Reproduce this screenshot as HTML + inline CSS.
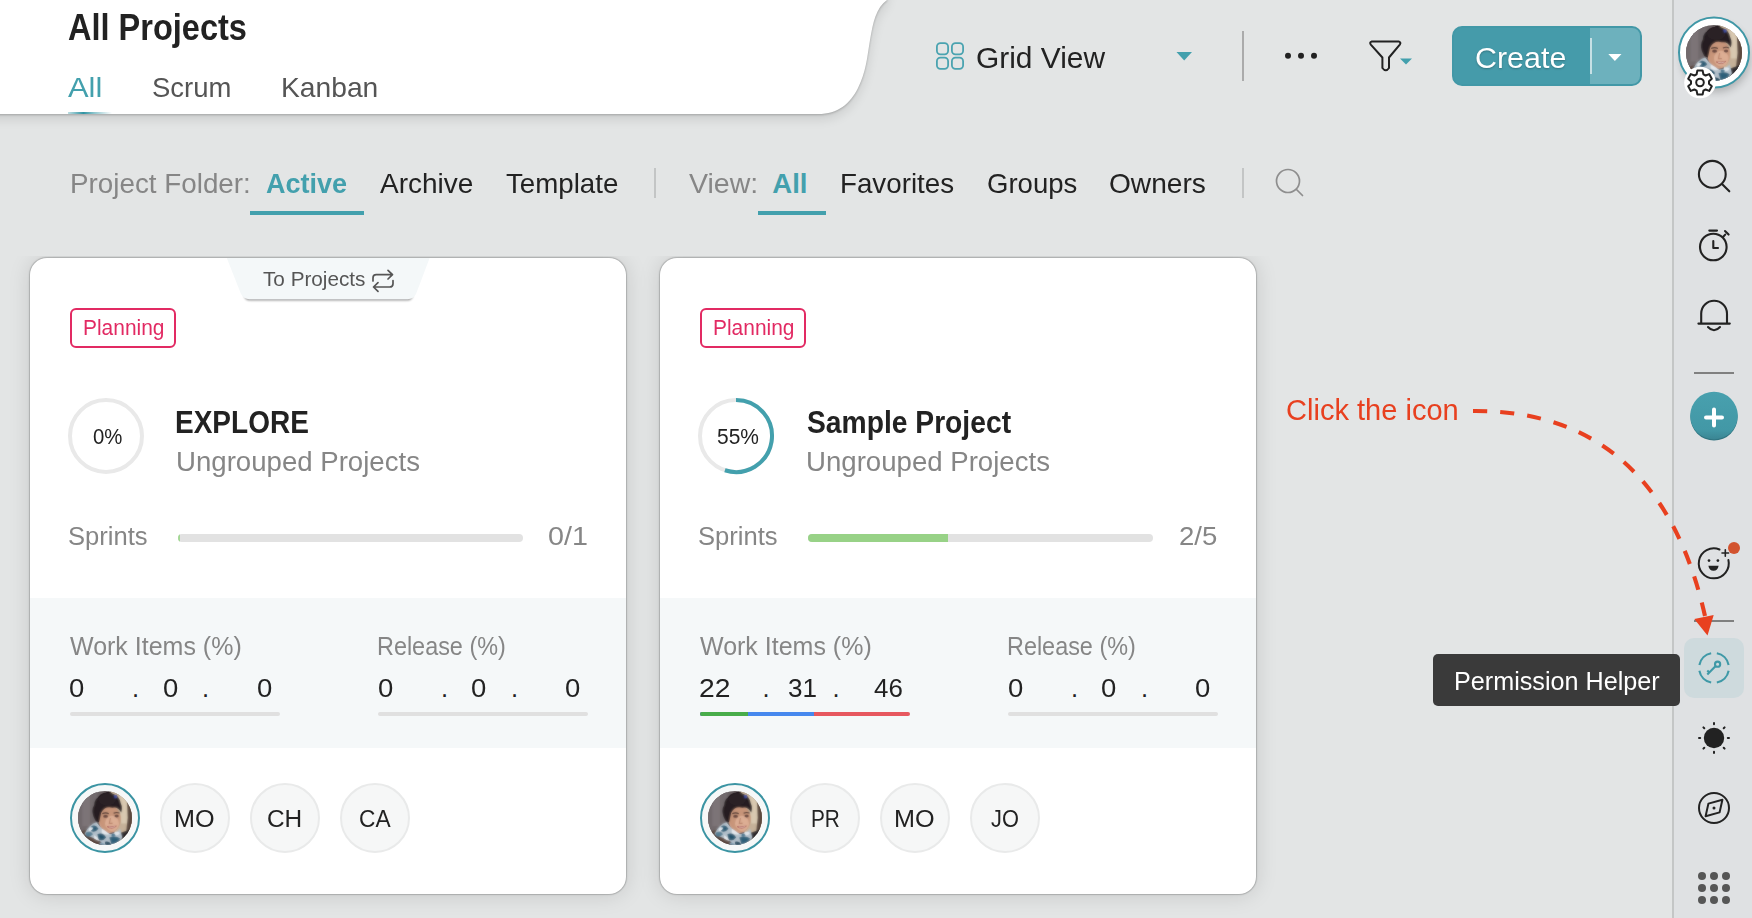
<!DOCTYPE html>
<html lang="en">
<head>
<meta charset="utf-8">
<title>All Projects</title>
<style>
*{box-sizing:border-box;margin:0;padding:0}
html,body{width:1752px;height:918px;overflow:hidden}
body{background:#e3e5e5;font-family:"Liberation Sans",sans-serif;color:#222;position:relative}
.abs{position:absolute}
.t{position:absolute;white-space:nowrap;line-height:1;transform-origin:0 0;display:block}
.b{font-weight:bold}
.teal{color:#43a0ad}
.gray{color:#868686}
.card{position:absolute;top:2px;width:596px;height:636px;background:#fff;border-radius:17px;box-shadow:0 0 0 1px rgba(0,0,0,.09),0 0 2.5px rgba(0,0,0,.28),0 1px 22px rgba(0,0,0,.13);overflow:hidden}
.band{position:absolute;left:0;top:340px;width:596px;height:150px;background:#f5f8f9}
.badge{position:absolute;left:40px;top:50px;width:106px;height:40px;border:2px solid #e22a63;border-radius:6px}
.bar{position:absolute;height:8px;border-radius:4px;background:#e2e2e2;overflow:hidden}
.ubar{position:absolute;height:4px;border-radius:2px;background:#e0e0e0;overflow:hidden;top:454px;width:210px}
.ini{position:absolute;top:525px;width:70px;height:70px;border-radius:50%;background:#f6f7f7;border:2px solid #e9eaea}
#cards{position:absolute;left:0;top:256px;width:1672px;height:662px;overflow:hidden}
#side{position:absolute;left:1672px;top:0;width:80px;height:918px;background:#dfe1e3;border-left:2px solid #c4c6c6}
</style>
</head>
<body>
<!-- header panel -->
<svg class="abs" style="left:0;top:0" width="920" height="150" viewBox="0 0 920 150">
  <defs>
    <filter id="hsh" x="-5%" y="-30%" width="110%" height="170%"><feGaussianBlur stdDeviation="6"/></filter>
    <filter id="hsh2" x="-5%" y="-30%" width="110%" height="170%"><feGaussianBlur stdDeviation="1"/></filter>
    <linearGradient id="ul" x1="0" x2="1"><stop offset="0" stop-color="#43a0ad" stop-opacity=".35"/><stop offset=".35" stop-color="#2f93a2"/><stop offset=".6" stop-color="#43a0ad" stop-opacity=".6"/><stop offset="1" stop-color="#43a0ad" stop-opacity="0"/></linearGradient>
  </defs>
  <path d="M-20 -20 L887 -20 L887 0 C876 8 873 22 870 40 C867 58 866 72 858 88 C850 104 838 114 818 114 L-20 114 Z" fill="#000" opacity=".11" filter="url(#hsh)" transform="translate(0,5)"/>
  <path d="M-20 -20 L887 -20 L887 0 C876 8 873 22 870 40 C867 58 866 72 858 88 C850 104 838 114 818 114 L-20 114 Z" fill="#000" opacity=".21" filter="url(#hsh2)" transform="translate(0,1)"/>
  <path d="M-20 -20 L887 -20 L887 0 C876 8 873 22 870 40 C867 58 866 72 858 88 C850 104 838 114 818 114 L-20 114 Z" fill="#fff"/>
  <rect x="68" y="112" width="44" height="2" fill="url(#ul)"/>
</svg>

<!-- toolbar -->
<svg class="abs" style="left:930px;top:20px" width="500" height="80" viewBox="930 20 500 80" fill="none">
  <g stroke="#4aa3b0" stroke-width="1.8">
    <rect x="936.9" y="43.1" width="11.2" height="11.2" rx="3.6"/>
    <rect x="951.9" y="43.1" width="11.2" height="11.2" rx="3.6"/>
    <rect x="936.9" y="57.6" width="11.2" height="11.2" rx="3.6"/>
    <rect x="951.9" y="57.6" width="11.2" height="11.2" rx="3.6"/>
  </g>
  <path d="M1176.5 52 L1192 52 L1184.2 60.5 Z" fill="#43a0ad"/>
  <rect x="1242" y="31" width="2" height="50" fill="#ababab"/>
  <circle cx="1288" cy="55.8" r="3" fill="#222"/><circle cx="1301" cy="55.8" r="3" fill="#222"/><circle cx="1314" cy="55.8" r="3" fill="#222"/>
  <path d="M1371.5 41.6 L1399 41.6 Q1401.3 42.6 1399.8 44.6 L1389 57.5 L1389 68 Q1385.8 72.6 1382.4 68 L1382.4 57.5 L1370.8 44.6 Q1369.3 42.6 1371.5 41.6 Z" stroke="#222" stroke-width="2" stroke-linejoin="round"/>
  <path d="M1400 58.6 L1412 58.6 L1406 64.6 Z" fill="#43a0ad"/>
</svg>

<!-- create button -->
<div class="abs" style="left:1452px;top:26px;width:190px;height:60px;border-radius:10px;background:linear-gradient(90deg,#459baa 0,#459baa 136px,#6db1bd 136px,#6db1bd 100%);border:2px solid #4298a7">
  <div class="abs" style="left:136.2px;top:10px;width:2px;height:36px;background:#c7e0e5"></div>
  <svg class="abs" style="left:152px;top:24px" width="18" height="10" viewBox="0 0 18 10"><path d="M2.3 2 L15.5 2 L8.9 9 Z" fill="#fff"/></svg>
</div>

<!-- filter row -->
<div class="abs" style="left:250px;top:211px;width:114px;height:4px;background:#43a0ad"></div>
<div class="abs" style="left:758px;top:211px;width:68px;height:4px;background:#43a0ad"></div>
<div class="abs" style="left:654px;top:168px;width:2px;height:30px;background:#c3c5c5"></div>
<div class="abs" style="left:1242px;top:168px;width:2px;height:30px;background:#c3c5c5"></div>
<svg class="abs" style="left:1270px;top:164px" width="40" height="40" viewBox="1270 164 40 40" fill="none" stroke="#8e8e8e" stroke-width="1.7" stroke-linecap="round">
  <circle cx="1288" cy="181" r="11.5"/><path d="M1296.5 189.5 L1302.5 195.5"/>
</svg>
<!-- avatar photo symbol -->
<svg width="0" height="0" style="position:absolute">
  <defs>
    <filter id="pb" x="-10%" y="-10%" width="120%" height="120%"><feGaussianBlur stdDeviation="1.5"/></filter>
    <clipPath id="pc"><circle cx="50" cy="50" r="50"/></clipPath>
    <linearGradient id="pbg" x1="0" x2="1"><stop offset="0" stop-color="#5b5054"/><stop offset=".55" stop-color="#6a5d5c"/><stop offset=".78" stop-color="#b9a48f"/><stop offset="1" stop-color="#8c7868"/></linearGradient>
    <symbol id="photo" viewBox="0 0 100 100">
      <g clip-path="url(#pc)">
        <rect width="100" height="100" fill="#6c6466"/>
        <g id="pg">
          <rect x="-5" y="-5" width="40" height="80" fill="#726a6d"/>
          <rect x="8" y="-5" width="14" height="70" fill="#7d7578"/>
          <path d="M60 -5 L105 -5 L105 105 L70 105 Z" fill="#c5b198"/>
          <path d="M76 8 L92 10 L94 60 L80 60 Z" fill="#d8c8b0"/>
          <path d="M90 -5 L105 -5 L105 105 L86 105 L92 50 Z" fill="#5c4a3f"/>
          <path d="M-5 78 L20 70 L40 84 L46 105 L-5 105 Z" fill="#5d4a43"/>
          <path d="M78 78 L100 70 L105 105 L70 105 Z" fill="#2e2a2e"/>
          <ellipse cx="59" cy="53" rx="20" ry="25" fill="#c8957a" transform="rotate(6 59 53)"/>
          <ellipse cx="63" cy="60" rx="13" ry="14" fill="#dcae94"/>
          <ellipse cx="36.5" cy="50" rx="3.5" ry="6" fill="#b98368"/>
          <path d="M33 56 Q22 38 30 26 Q30 12 48 6 Q56 -3 64 5 Q76 8 79 22 Q83 30 80 40 Q74 29 64 31 Q50 27 43 40 Q41 50 39 58 Z" fill="#251d21"/>
          <ellipse cx="54" cy="15" rx="17" ry="12" fill="#2a2125"/>
          <path d="M66 8 L72 7 L73 13 L68 14 Z" fill="#3d4c9c"/>
          <path d="M45 42 Q51 39 57 42" stroke="#3a2824" stroke-width="2" fill="none"/>
          <path d="M66 41 Q72 38.5 77 41" stroke="#3a2824" stroke-width="2" fill="none"/>
          <ellipse cx="51" cy="47" rx="4.5" ry="2.6" fill="#5a3a36"/>
          <ellipse cx="71.5" cy="46.5" rx="4" ry="2.4" fill="#5a3a36"/>
          <path d="M60 50 L58 60 L64 60" stroke="#b57f66" stroke-width="2" fill="none"/>
          <path d="M54 66 Q63 72 71 65 Q63 67 54 66Z" fill="#a3564f" stroke="#a3564f" stroke-width="1.6"/>
          <path d="M57 66.6 Q63 68.6 69 66" stroke="#f2e3dc" stroke-width="1.3" fill="none"/>
          <path d="M12 80 Q20 62 34 58 Q44 72 60 80 Q72 78 78 70 L82 86 Q76 104 52 104 L40 92 Q26 86 12 80 Z" fill="#b3c0ca"/>
          <path d="M24 66 Q32 60 38 70 Q32 78 24 74 Z" fill="#2b5b75"/>
          <path d="M14 78 Q22 72 28 80 Q22 86 15 84 Z" fill="#557d92"/>
          <path d="M36 80 Q46 76 52 86 Q46 94 38 90 Z" fill="#27546d"/>
          <path d="M58 86 Q70 82 78 88 Q74 98 62 98 Z" fill="#2f6079"/>
          <path d="M44 70 Q52 74 58 80 Q50 82 44 78 Z" fill="#e6ebef"/>
          <path d="M30 82 Q36 86 40 92 Q34 92 30 88 Z" fill="#eef1f4"/>
          <path d="M50 94 Q58 92 62 100 Q54 102 50 98 Z" fill="#1f4459"/>
          <path d="M68 76 Q74 74 78 78 Q74 84 68 82 Z" fill="#e1e7ec"/>
          <path d="M20 70 Q24 66 28 68 Q26 74 20 74 Z" fill="#e8edf1"/>
          <path d="M40 96 Q46 94 50 100 Q44 104 40 100 Z" fill="#7f9db0"/>
          <path d="M62 80 Q66 78 70 82 Q66 86 62 84 Z" fill="#4d7890"/>
        </g>
        <use href="#pg" filter="url(#pb)" opacity=".62"/>
      </g>
    </symbol>
  </defs>
</svg>

<div id="cards">
<!-- CARD 1 -->
<div class="card" style="left:30px">
  <svg class="abs" style="left:180px;top:0" width="240" height="50" viewBox="210 258 240 50">
    <defs><filter id="tsh" x="-10%" y="-10%" width="120%" height="140%"><feGaussianBlur stdDeviation="1"/></filter></defs>
    <path d="M244 290 L413 290 L413 294 Q412 299.2 407.5 299.2 L249.5 299.2 Q245 299.2 244 294 Z" fill="#000" opacity=".38" filter="url(#tsh)" transform="translate(0,1.3)"/>
    <path d="M226.4 257 L430 257 L416.2 293.5 Q413.8 299.2 407.5 299.2 L249.5 299.2 Q243.4 299.2 240.8 293.5 Z" fill="#f4f8f9"/>
    <g fill="none" stroke="#555" stroke-width="1.7" stroke-linecap="round" stroke-linejoin="round">
      <path d="M373 281 L373 278 Q373 274.7 376.3 274.7 L392.3 274.7 M388 270.4 L392.5 274.7 L388 279"/>
      <path d="M393 280.6 L393 283.7 Q393 287 389.7 287 L373.7 287 M378 282.7 L373.5 287 L378 291.3"/>
    </g>
  </svg>
  <div class="badge"></div>
  <svg class="abs" style="left:36px;top:138px" width="80" height="80" viewBox="0 0 80 80" fill="none"><circle cx="40" cy="40" r="36" stroke="#e9e9e9" stroke-width="4"/></svg>
  <div class="bar" style="left:148px;top:276px;width:345px"><div class="abs" style="left:0;top:0;width:2px;height:8px;background:#a3d894"></div></div>
  <div class="band"></div>
  <div class="ubar" style="left:40px"></div>
  <div class="ubar" style="left:348px"></div>
  <svg class="abs" style="left:40px;top:525px" width="70" height="70" viewBox="0 0 70 70"><circle cx="35" cy="35" r="34" fill="#f6f8f8" stroke="#3b94a3" stroke-width="2"/><use href="#photo" x="8" y="8" width="54" height="54"/></svg>
  <div class="ini" style="left:130px"></div>
  <div class="ini" style="left:220px"></div>
  <div class="ini" style="left:310px"></div>
</div>

<!-- CARD 2 -->
<div class="card" style="left:660px">
  <div class="badge"></div>
  <svg class="abs" style="left:36px;top:138px" width="80" height="80" viewBox="0 0 80 80" fill="none"><circle cx="40" cy="40" r="36" stroke="#e9e9e9" stroke-width="4"/><path d="M40 4 A36 36 0 1 1 28.9 74.25" stroke="#43a0ad" stroke-width="4"/></svg>
  <div class="bar" style="left:148px;top:276px;width:345px"><div class="abs" style="left:0;top:0;width:140px;height:8px;background:#98d287"></div></div>
  <div class="band"></div>
  <div class="ubar" style="left:40px;background:#e7585f"><div class="abs" style="left:0;top:0;width:114px;height:4px;background:#4688ee"></div><div class="abs" style="left:0;top:0;width:48px;height:4px;background:#48ad4a"></div></div>
  <div class="ubar" style="left:348px"></div>
  <svg class="abs" style="left:40px;top:525px" width="70" height="70" viewBox="0 0 70 70"><circle cx="35" cy="35" r="34" fill="#f6f8f8" stroke="#3b94a3" stroke-width="2"/><use href="#photo" x="8" y="8" width="54" height="54"/></svg>
  <div class="ini" style="left:130px"></div>
  <div class="ini" style="left:220px"></div>
  <div class="ini" style="left:310px"></div>
</div>
</div>
<!-- SIDEBAR -->
<div id="side"></div>
<svg class="abs" style="left:1660px;top:0" width="92" height="918" viewBox="1660 0 92 918" fill="none">
  <defs>
    <filter id="ash" x="-30%" y="-30%" width="160%" height="160%"><feGaussianBlur stdDeviation="4"/></filter>
    <linearGradient id="pl" x1="0" y1="0" x2="0" y2="1"><stop offset="0" stop-color="#48a0ae"/><stop offset=".8" stop-color="#4298a6"/><stop offset="1" stop-color="#3a8593"/></linearGradient>
  </defs>
  <!-- avatar -->
  <circle cx="1716" cy="58" r="34" fill="#000" opacity=".22" filter="url(#ash)"/>
  <circle cx="1714" cy="52.6" r="35" fill="#fff" stroke="#3f97a6" stroke-width="2"/>
  <use href="#photo" x="1686" y="25" width="56" height="56"/>
  <circle cx="1700" cy="82.5" r="15.8" fill="#fff"/>
  <g transform="translate(1700 82.5)" stroke="#222" stroke-width="2" stroke-linejoin="round">
    <path d="M-2.6 -12 L2.6 -12 L3.4 -8.2 L5.6 -7 L9.2 -8.4 L11.8 -3.8 L9 -1.2 L9 1.2 L11.8 3.8 L9.2 8.4 L5.6 7 L3.4 8.2 L2.6 12 L-2.6 12 L-3.4 8.2 L-5.6 7 L-9.2 8.4 L-11.8 3.8 L-9 1.2 L-9 -1.2 L-11.8 -3.8 L-9.2 -8.4 L-5.6 -7 L-3.4 -8.2 Z"/>
    <circle r="3.8"/>
  </g>
  <!-- search -->
  <g stroke="#222" stroke-width="2.1" stroke-linecap="round">
    <circle cx="1712.3" cy="174.3" r="13.4"/><path d="M1722 184 L1729.3 191.3"/>
  </g>
  <!-- timer -->
  <g stroke="#222" stroke-width="2.1" stroke-linecap="round" stroke-linejoin="round">
    <circle cx="1713.3" cy="247" r="13.3"/>
    <path d="M1709.3 230.6 L1717 230.6 M1725 231 L1728.6 234.6 M1723 237 L1725.2 234.6 M1713.3 241 L1713.3 248 L1718 248"/>
  </g>
  <!-- bell -->
  <g stroke="#222" stroke-width="2.1" stroke-linecap="round" stroke-linejoin="round">
    <path d="M1701.2 323.4 L1701.2 313.6 A12.9 12.9 0 0 1 1727 313.6 L1727 323.4 M1698.4 323.6 L1729.8 323.6 M1708 327 Q1714 333.6 1720 327"/>
  </g>
  <!-- separators -->
  <rect x="1694" y="372" width="40" height="2" fill="#808080"/>
  <rect x="1694" y="620" width="40" height="2" fill="#808080"/>
  <!-- plus -->
  <circle cx="1714" cy="417" r="23.6" fill="#2f7480"/>
  <circle cx="1714" cy="415.6" r="23.8" fill="url(#pl)"/>
  <path d="M1706 417.6 L1722 417.6 M1714 409.6 L1714 425.6" stroke="#fff" stroke-width="4" stroke-linecap="round"/>
  <!-- emoji -->
  <g stroke="#222" stroke-width="2" stroke-linecap="round">
    <path d="M1719.5 549.5 A15 15 0 1 0 1728.4 560"/>
    <path d="M1722 553 L1728.6 553 M1725.3 549.7 L1725.3 556.3" stroke-width="1.6"/>
  </g>
  <circle cx="1709" cy="560.6" r="1.35" fill="#222"/><circle cx="1717.9" cy="560.6" r="1.35" fill="#222"/>
  <path d="M1708.4 565.8 L1718.6 565.8 Q1717.8 570.8 1713.5 570.8 Q1709.2 570.8 1708.4 565.8 Z" fill="#222"/>
  <circle cx="1734" cy="548" r="6" fill="#d2532f"/>
  <!-- permission helper -->
  <rect x="1684" y="638" width="60" height="60" rx="10" fill="#cedadd"/>
  <g stroke="#3f99a7" stroke-width="2.1" stroke-linecap="butt">
    <path d="M1728.63 670.74 A14.9 14.9 0 0 1 1716.84 682.53"/>
    <path d="M1711.16 682.53 A14.9 14.9 0 0 1 1699.37 670.74"/>
    <path d="M1699.37 665.06 A14.9 14.9 0 0 1 1711.16 653.27"/>
    <path d="M1716.84 653.27 A14.9 14.9 0 0 1 1728.63 665.06"/>
    <circle cx="1717.6" cy="664.2" r="2.6"/>
    <path d="M1715.7 666.1 L1707.3 674.5 M1707.3 670.6 L1709.8 673.1"/>
  </g>
  <!-- sun -->
  <circle cx="1714" cy="738" r="10.2" fill="#222"/>
  <g stroke="#222" stroke-width="2" stroke-linecap="round">
    <path d="M1714 723 L1714 724.2 M1714 751.8 L1714 753 M1699 738 L1700.2 738 M1727.8 738 L1729 738 M1703.4 727.4 L1704.3 728.3 M1723.7 747.7 L1724.6 748.6 M1703.4 748.6 L1704.3 747.7 M1723.7 728.3 L1724.6 727.4"/>
  </g>
  <!-- compass -->
  <g stroke="#222" stroke-width="2" stroke-linejoin="round">
    <circle cx="1714" cy="808" r="15"/>
    <path d="M1708.4 803.6 L1722.4 799.8 L1719.6 812.4 L1705.6 816.2 Z"/>
  </g>
  <circle cx="1714" cy="808" r="1.5" fill="#222"/>
  <!-- apps -->
  <g fill="#565656">
    <circle cx="1702" cy="876" r="4"/><circle cx="1714" cy="876" r="4"/><circle cx="1726" cy="876" r="4"/>
    <circle cx="1702" cy="888" r="4"/><circle cx="1714" cy="888" r="4"/><circle cx="1726" cy="888" r="4"/>
    <circle cx="1702" cy="900" r="4"/><circle cx="1714" cy="900" r="4"/><circle cx="1726" cy="900" r="4"/>
  </g>
</svg>

<!-- tooltip -->
<div class="abs" style="left:1433px;top:654px;width:247px;height:52px;border-radius:5px;background:#3a3a3a"></div>

<!-- annotation arrow -->
<svg class="abs" style="left:1460px;top:390px" width="270" height="260" viewBox="1460 390 270 260" fill="none">
  <path d="M1473 411 C1614.9 409.8 1679.5 502.2 1705 616" stroke="#e8401f" stroke-width="4.1" stroke-dasharray="14 13.16"/>
  <path d="M1694.3 619 L1713.7 615 L1707.5 635.6 Z" fill="#e8401f"/>
</svg>

<span class="t" style="left:68.00px;top:9.50px;font-size:36px;font-weight:bold;color:#222;transform:scaleX(0.9033);">All Projects</span>
<span class="t" style="left:68.00px;top:73.70px;font-size:28px;font-weight:normal;color:#43a0ad;transform:scaleX(1.1038);">All</span>
<span class="t" style="left:152.32px;top:73.70px;font-size:28px;font-weight:normal;color:#555;transform:scaleX(0.9813);">Scrum</span>
<span class="t" style="left:281.18px;top:73.70px;font-size:28px;font-weight:normal;color:#555;transform:scaleX(1.0079);">Kanban</span>
<span class="t" style="left:69.58px;top:170.05px;font-size:27.5px;font-weight:normal;color:#868686;transform:scaleX(1.0110);">Project Folder:</span>
<span class="t" style="left:266.00px;top:170.05px;font-size:27.5px;font-weight:bold;color:#43a0ad;transform:scaleX(0.9812);">Active</span>
<span class="t" style="left:380.00px;top:170.05px;font-size:27.5px;font-weight:normal;color:#222;transform:scaleX(1.0175);">Archive</span>
<span class="t" style="left:506.00px;top:170.05px;font-size:27.5px;font-weight:normal;color:#222;transform:scaleX(1.0064);">Template</span>
<span class="t" style="left:689.00px;top:170.05px;font-size:27.5px;font-weight:normal;color:#868686;transform:scaleX(1.0367);">View:</span>
<span class="t" style="left:772.30px;top:170.05px;font-size:27.5px;font-weight:bold;color:#43a0ad;transform:scaleX(1.0000);">All</span>
<span class="t" style="left:840.48px;top:170.05px;font-size:27.5px;font-weight:normal;color:#222;transform:scaleX(1.0087);">Favorites</span>
<span class="t" style="left:986.50px;top:170.05px;font-size:27.5px;font-weight:normal;color:#222;transform:scaleX(1.0008);">Groups</span>
<span class="t" style="left:1108.78px;top:170.05px;font-size:27.5px;font-weight:normal;color:#222;transform:scaleX(1.0226);">Owners</span>
<span class="t" style="left:976.37px;top:43.80px;font-size:29px;font-weight:normal;color:#222;transform:scaleX(1.0309);">Grid View</span>
<span class="t" style="left:1475.35px;top:43.50px;font-size:29px;font-weight:normal;color:#fff;transform:scaleX(1.0493);text-shadow:0 1px 2px rgba(0,0,0,.25);">Create</span>
<span class="t" style="left:263.00px;top:268.95px;font-size:20.5px;font-weight:normal;color:#555;transform:scaleX(1.0104);">To Projects</span>
<span class="t" style="left:82.53px;top:317.30px;font-size:21.6px;font-weight:normal;color:#e22a63;transform:scaleX(0.9691);">Planning</span>
<span class="t" style="left:712.53px;top:317.30px;font-size:21.6px;font-weight:normal;color:#e22a63;transform:scaleX(0.9691);">Planning</span>
<span class="t" style="left:93.00px;top:427.00px;font-size:21.4px;font-weight:normal;color:#222;transform:scaleX(0.9516);">0%</span>
<span class="t" style="left:716.90px;top:427.00px;font-size:21.4px;font-weight:normal;color:#222;transform:scaleX(0.9791);">55%</span>
<span class="t" style="left:175.46px;top:406.95px;font-size:30.5px;font-weight:bold;color:#222;transform:scaleX(0.9183);">EXPLORE</span>
<span class="t" style="left:806.70px;top:406.95px;font-size:30.5px;font-weight:bold;color:#222;transform:scaleX(0.9259);">Sample Project</span>
<span class="t" style="left:175.56px;top:448.80px;font-size:27px;font-weight:normal;color:#868686;transform:scaleX(1.0223);">Ungrouped Projects</span>
<span class="t" style="left:805.56px;top:448.80px;font-size:27px;font-weight:normal;color:#868686;transform:scaleX(1.0223);">Ungrouped Projects</span>
<span class="t" style="left:67.63px;top:522.75px;font-size:26.5px;font-weight:normal;color:#868686;transform:scaleX(0.9652);">Sprints</span>
<span class="t" style="left:697.63px;top:522.75px;font-size:26.5px;font-weight:normal;color:#868686;transform:scaleX(0.9652);">Sprints</span>
<span class="t" style="left:547.92px;top:522.75px;font-size:26.5px;font-weight:normal;color:#868686;transform:scaleX(1.0826);">0/1</span>
<span class="t" style="left:1178.96px;top:522.75px;font-size:26.5px;font-weight:normal;color:#868686;transform:scaleX(1.0399);">2/5</span>
<span class="t" style="left:70.40px;top:633.30px;font-size:26px;font-weight:normal;color:#868686;transform:scaleX(0.9614);">Work Items (%)</span>
<span class="t" style="left:700.40px;top:633.30px;font-size:26px;font-weight:normal;color:#868686;transform:scaleX(0.9614);">Work Items (%)</span>
<span class="t" style="left:376.80px;top:633.30px;font-size:26px;font-weight:normal;color:#868686;transform:scaleX(0.9003);">Release (%)</span>
<span class="t" style="left:1006.80px;top:633.30px;font-size:26px;font-weight:normal;color:#868686;transform:scaleX(0.9003);">Release (%)</span>
<span class="t" style="left:69.32px;top:675.65px;font-size:25.5px;font-weight:normal;color:#222;transform:scaleX(1.0769);">0</span>
<span class="t" style="left:132.00px;top:675.65px;font-size:25.5px;font-weight:normal;color:#222;transform:scaleX(1.0000);">.</span>
<span class="t" style="left:162.92px;top:675.65px;font-size:25.5px;font-weight:normal;color:#222;transform:scaleX(1.0769);">0</span>
<span class="t" style="left:202.00px;top:675.65px;font-size:25.5px;font-weight:normal;color:#222;transform:scaleX(1.0000);">.</span>
<span class="t" style="left:257.32px;top:675.65px;font-size:25.5px;font-weight:normal;color:#222;transform:scaleX(1.0769);">0</span>
<span class="t" style="left:377.52px;top:675.65px;font-size:25.5px;font-weight:normal;color:#222;transform:scaleX(1.0769);">0</span>
<span class="t" style="left:441.00px;top:675.65px;font-size:25.5px;font-weight:normal;color:#222;transform:scaleX(1.0000);">.</span>
<span class="t" style="left:470.92px;top:675.65px;font-size:25.5px;font-weight:normal;color:#222;transform:scaleX(1.0769);">0</span>
<span class="t" style="left:511.00px;top:675.65px;font-size:25.5px;font-weight:normal;color:#222;transform:scaleX(1.0000);">.</span>
<span class="t" style="left:564.92px;top:675.65px;font-size:25.5px;font-weight:normal;color:#222;transform:scaleX(1.0769);">0</span>
<span class="t" style="left:699.19px;top:675.65px;font-size:25.5px;font-weight:normal;color:#222;transform:scaleX(1.1076);">22</span>
<span class="t" style="left:762.50px;top:675.65px;font-size:25.5px;font-weight:normal;color:#222;transform:scaleX(1.0000);">.</span>
<span class="t" style="left:787.70px;top:675.65px;font-size:25.5px;font-weight:normal;color:#222;transform:scaleX(1.0227);">31</span>
<span class="t" style="left:832.50px;top:675.65px;font-size:25.5px;font-weight:normal;color:#222;transform:scaleX(1.0000);">.</span>
<span class="t" style="left:873.60px;top:675.65px;font-size:25.5px;font-weight:normal;color:#222;transform:scaleX(1.0148);">46</span>
<span class="t" style="left:1007.52px;top:675.65px;font-size:25.5px;font-weight:normal;color:#222;transform:scaleX(1.0769);">0</span>
<span class="t" style="left:1071.00px;top:675.65px;font-size:25.5px;font-weight:normal;color:#222;transform:scaleX(1.0000);">.</span>
<span class="t" style="left:1100.92px;top:675.65px;font-size:25.5px;font-weight:normal;color:#222;transform:scaleX(1.0769);">0</span>
<span class="t" style="left:1141.00px;top:675.65px;font-size:25.5px;font-weight:normal;color:#222;transform:scaleX(1.0000);">.</span>
<span class="t" style="left:1194.92px;top:675.65px;font-size:25.5px;font-weight:normal;color:#222;transform:scaleX(1.0769);">0</span>
<span class="t" style="left:174.43px;top:807.85px;font-size:23.5px;font-weight:normal;color:#222;transform:scaleX(1.0718);">MO</span>
<span class="t" style="left:267.16px;top:807.85px;font-size:23.5px;font-weight:normal;color:#222;transform:scaleX(1.0384);">CH</span>
<span class="t" style="left:358.83px;top:807.85px;font-size:23.5px;font-weight:normal;color:#222;transform:scaleX(0.9665);">CA</span>
<span class="t" style="left:810.52px;top:807.85px;font-size:23.5px;font-weight:normal;color:#222;transform:scaleX(0.8835);">PR</span>
<span class="t" style="left:894.33px;top:807.85px;font-size:23.5px;font-weight:normal;color:#222;transform:scaleX(1.0718);">MO</span>
<span class="t" style="left:991.00px;top:807.85px;font-size:23.5px;font-weight:normal;color:#222;transform:scaleX(0.9277);">JO</span>
<span class="t" style="left:1453.56px;top:668.00px;font-size:26px;font-weight:normal;color:#fff;transform:scaleX(0.9680);">Permission Helper</span>
<span class="t" style="left:1286.48px;top:395.70px;font-size:28.6px;font-weight:normal;color:#e8401f;transform:scaleX(1.0158);">Click the icon</span>
</body>
</html>
